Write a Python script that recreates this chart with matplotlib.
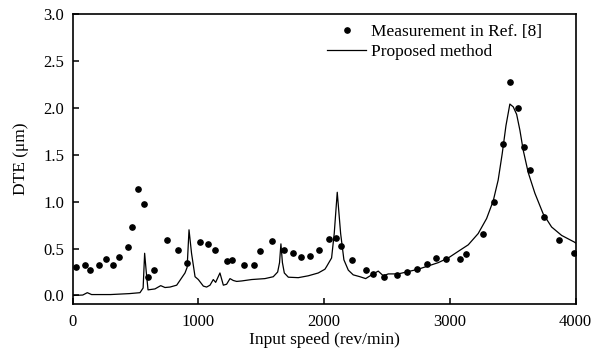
import numpy as np
import matplotlib
matplotlib.use('Agg')
import matplotlib.pyplot as plt

plt.rcParams['font.family'] = ['Liberation Serif', 'DejaVu Serif']

# measurement points (Ref. [8])
meas_speed = [26, 98, 140, 209, 267, 318, 368, 437, 474, 517, 567, 596, 646,
              747, 837, 906, 1015, 1078, 1129, 1227, 1269, 1360, 1439, 1489,
              1587, 1680, 1749, 1818, 1890, 1962, 2038, 2094, 2136, 2219,
              2330, 2391, 2478, 2579, 2658, 2738, 2817, 2889, 2969, 3077,
              3128, 3260, 3350, 3419, 3477, 3539, 3589, 3639, 3750, 3869, 3989]
meas_dte = [0.30, 0.33, 0.27, 0.33, 0.39, 0.32, 0.41, 0.52, 0.73, 1.14, 0.98,
            0.195, 0.27, 0.59, 0.485, 0.35, 0.566, 0.55, 0.48, 0.37, 0.375,
            0.33, 0.32, 0.47, 0.58, 0.48, 0.45, 0.41, 0.42, 0.49, 0.60, 0.61,
            0.53, 0.38, 0.27, 0.23, 0.195, 0.215, 0.25, 0.28, 0.34, 0.40,
            0.39, 0.39, 0.44, 0.66, 1.00, 1.61, 2.27, 2.00, 1.58, 1.34, 0.84,
            0.59, 0.456]

# proposed method curve
model_speed = [0, 80, 116, 150, 300, 450, 535, 560, 572, 585, 599, 654, 700,
               734, 774, 827, 893, 910, 925, 945, 973, 999, 1039, 1065, 1092,
               1118, 1137, 1171, 1198, 1224, 1251, 1277, 1304, 1344, 1423,
               1529, 1595, 1630, 1645, 1656, 1668, 1683, 1715, 1794, 1874,
               1953, 2006, 2020, 2059, 2080, 2104, 2131, 2157, 2192, 2231,
               2285, 2330, 2378, 2430, 2470, 2510, 2589, 2669, 2748, 2828,
               2907, 2987, 3066, 3146, 3225, 3292, 3345, 3384, 3416, 3446,
               3477, 3504, 3531, 3557, 3583, 3623, 3676, 3742, 3809, 3889,
               3989, 4000]
model_dte = [0.0, 0.005, 0.03, 0.01, 0.01, 0.02, 0.03, 0.08, 0.45, 0.25, 0.06,
             0.07, 0.105, 0.085, 0.09, 0.11, 0.24, 0.30, 0.70, 0.45, 0.20,
             0.17, 0.10, 0.09, 0.11, 0.17, 0.14, 0.24, 0.11, 0.12, 0.18, 0.16,
             0.15, 0.155, 0.17, 0.18, 0.20, 0.25, 0.35, 0.55, 0.35, 0.24,
             0.195, 0.19, 0.21, 0.24, 0.28, 0.31, 0.40, 0.66, 1.10, 0.66,
             0.38, 0.27, 0.22, 0.20, 0.18, 0.22, 0.26, 0.21, 0.23, 0.23,
             0.255, 0.28, 0.315, 0.35, 0.40, 0.47, 0.54, 0.66, 0.82, 1.01,
             1.23, 1.51, 1.81, 2.04, 2.01, 1.93, 1.76, 1.55, 1.31, 1.09, 0.87,
             0.73, 0.64, 0.57, 0.56]

fig = plt.figure(figsize=(6.04, 3.58), dpi=100)
ax = fig.add_axes([0.1204, 0.151, 0.8326, 0.810])

ax.plot(meas_speed, meas_dte, 'o', color='black', markersize=3.8,
        linestyle='none', label='Measurement in Ref. [8]')
ax.plot(model_speed, model_dte, '-', color='black', linewidth=0.9,
        label='Proposed method')

ax.set_xlim(0, 4000)
ax.set_ylim(-0.09, 3.0)
ax.set_xticks([0, 1000, 2000, 3000, 4000])
ax.set_yticks(np.arange(0, 3.01, 0.5))
ax.yaxis.set_major_formatter(matplotlib.ticker.FormatStrFormatter('%.1f'))
ax.tick_params(direction='in', length=4, width=1.1, labelsize=12,
               top=False, right=False)
ax.tick_params(axis='x', pad=7)
ax.tick_params(axis='y', pad=6)
for s in ax.spines.values():
    s.set_linewidth(1.2)

ax.set_xlabel('Input speed (rev/min)', fontsize=12.5, labelpad=2)
ax.set_ylabel('DTE (μm)', fontsize=12.5, labelpad=10)

ax.legend(loc='upper left', frameon=False, fontsize=12.5,
          bbox_to_anchor=(0.5056, 0.9645), borderaxespad=0, borderpad=0,
          handlelength=2.25, handletextpad=0.3, labelspacing=0.2)

fig.savefig('out.png', dpi=100)
